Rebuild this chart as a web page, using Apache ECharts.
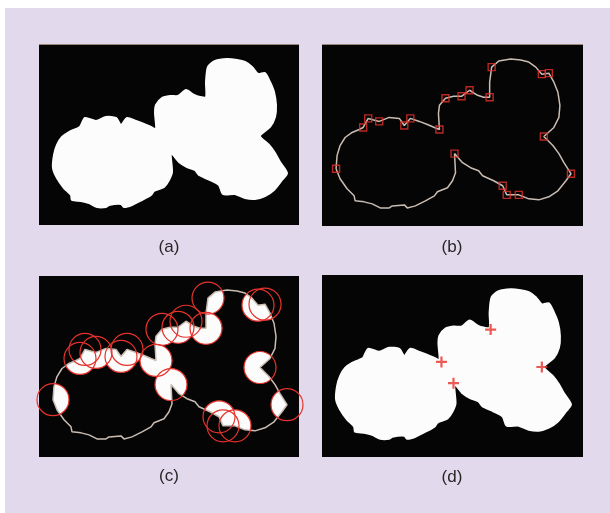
<!DOCTYPE html>
<html>
<head>
<meta charset="utf-8">
<script src="https://cdn.jsdelivr.net/npm/echarts@6/dist/echarts.min.js"></script>
<style>
  html, body { margin: 0; padding: 0; background: #fff; }
  #wrap { position: relative; width: 610px; height: 513px; background: #fff; }
  #lav { position: absolute; left: 5px; top: 8px; width: 605px; height: 505px; background: #e3d9ec; }
  #main { position: absolute; left: 0; top: 0; width: 610px; height: 513px; }
</style>
</head>
<body>
<div id="wrap"><div id="lav"></div><div id="main"></div></div>
<script>
// blob boundary, panel-local pixel coords (x right, y down)
const outline = [
  [14,123],[15,110],[18,100],[23,92],[30,87],[37,84],[41,82],[46,73],[57,76],[67,72],
  [77,73],[82,80],[88,73],[97,76],[105,79],[112,82],[117,84],[116,68],[117,60],[123,53],
  [131,51],[139,51],[147,45],[155,50],[161,52],[167,52],[167,37],[169,22],[176,16],[188,14],
  [198,15],[206,17],[213,22],[219,29],[226,28],[231,37],[235,47],[237,60],[236,72],[231,82],
  [221,91],[230,100],[236,108],[241,117],[248,128],[243,135],[235,145],[226,151],[216,154],[206,153],
  [196,149],[184,149],[180,140],[171,135],[160,130],[156,125],[148,122],[140,117],[132,108],[133,127],
  [130,135],[125,142],[120,144],[115,146],[112,150],[103,155],[93,160],[85,162],[82,159],[70,160],
  [67,162],[58,162],[50,158],[42,156],[33,155],[32,150],[25,143],[18,133]
];
// detected corner points (b) / circle centres (c)
const corners = [
  [169,22],[219,29],[226,28],[167,52],[147,45],[139,51],[123,53],[117,84],[88,73],[82,80],
  [57,76],[46,73],[41,82],[14,123],[132,108],[221,91],[248,128],[180,140],[184,149],[196,149]
];
// final split points (d)
const junctions = [[168,54],[119,86],[131,107],[219,91]];
const panelLabels = ['(a)', '(b)', '(c)', '(d)'];

const panels = [
  { left: 39, top: 45, width: 260, height: 180, lx: 169, ly: 247 },
  { left: 322, top: 45, width: 261, height: 181, lx: 452, ly: 247 },
  { left: 39, top: 276, width: 260, height: 181, lx: 169, ly: 476 },
  { left: 322, top: 275, width: 261, height: 182, lx: 452, ly: 477 }
];

const BLACK = '#050505';
const WHITE = '#fdfcfc';
const GREY = '#c9bdb3';
const RED = '#e5322b';
const closed = outline.concat([outline[0]]);

function blobItem(params, api) {
  const pts = outline.map(p => api.coord(p));
  return {
    type: 'polygon', shape: { points: pts, smooth: 0.25 },
    style: { fill: WHITE, stroke: WHITE, lineWidth: 2 }
  };
}

function maskItem(params, api) {
  const cs = params.coordSys;
  let pts = outline.map(p => api.coord(p));
  let a = 0;
  for (let i = 0; i < pts.length; i++) {
    const p = pts[i], q = pts[(i + 1) % pts.length];
    a += p[0] * q[1] - q[0] * p[1];
  }
  if (a > 0) pts = pts.slice().reverse();
  const x0 = cs.x, y0 = cs.y, x1 = cs.x + cs.width, y1 = cs.y + cs.height;
  let d = `M${x0} ${y0}L${x1} ${y0}L${x1} ${y1}L${x0} ${y1}Z`;
  d += 'M' + pts.map(p => p[0] + ' ' + p[1]).join('L') + 'Z';
  return { type: 'path', shape: { pathData: d }, style: { fill: BLACK } };
}

function circleItem(fill, stroke) {
  return function (params, api) {
    const c = api.coord([api.value(0), api.value(1)]);
    return {
      type: 'circle',
      shape: { cx: c[0], cy: c[1], r: 16 },
      style: { fill: fill, stroke: stroke, lineWidth: 1.2 }
    };
  };
}

const chart = echarts.init(document.getElementById('main'));

const option = {
  animation: false,
  grid: panels.map(p => ({
    left: p.left, top: p.top, width: p.width, height: p.height,
    show: true, backgroundColor: BLACK, borderWidth: 0
  })),
  xAxis: panels.map((p, i) => ({ type: 'value', gridIndex: i, min: 0, max: 260, show: false })),
  yAxis: panels.map((p, i) => ({ type: 'value', gridIndex: i, min: 0, max: 180, inverse: true, show: false })),
  graphic: [
    { type: 'rect', shape: { x: 39, y: 44, width: 260, height: 1 }, style: { fill: '#9c8878' } },
    { type: 'rect', shape: { x: 322, y: 44, width: 261, height: 1 }, style: { fill: '#9c8878' } }
  ].concat(panels.map((p, i) => ({
    type: 'text', x: p.lx, y: p.ly,
    style: {
      text: panelLabels[i], fill: '#262626',
      font: '17px "Liberation Sans", Arial, sans-serif',
      textAlign: 'center', textVerticalAlign: 'middle'
    }
  }))),
  series: [
    // (a) filled blob
    { type: 'custom', xAxisIndex: 0, yAxisIndex: 0, data: [[0, 0]], renderItem: blobItem, z: 2, silent: true },
    // (b) contour + corners
    {
      type: 'line', xAxisIndex: 1, yAxisIndex: 1, data: closed, symbol: 'none',
      lineStyle: { color: GREY, width: 1.5 }, z: 3, silent: true
    },
    {
      type: 'scatter', xAxisIndex: 1, yAxisIndex: 1, data: corners, symbol: 'rect', symbolSize: 7,
      itemStyle: { color: 'rgba(0,0,0,0)', borderColor: RED, borderWidth: 1.4 }, z: 5, silent: true
    },
    // (c) discs clipped to blob, contour, circles
    {
      type: 'custom', xAxisIndex: 2, yAxisIndex: 2, data: corners, clip: true,
      renderItem: circleItem(WHITE, null), z: 2, silent: true
    },
    { type: 'custom', xAxisIndex: 2, yAxisIndex: 2, data: [[0, 0]], renderItem: maskItem, z: 3, silent: true },
    {
      type: 'line', xAxisIndex: 2, yAxisIndex: 2, data: closed, symbol: 'none',
      lineStyle: { color: GREY, width: 1.5 }, z: 4, silent: true
    },
    {
      type: 'custom', xAxisIndex: 2, yAxisIndex: 2, data: corners, clip: false,
      renderItem: circleItem('none', RED), z: 5, silent: true
    },
    // (d) filled blob + split points
    { type: 'custom', xAxisIndex: 3, yAxisIndex: 3, data: [[0, 0]], renderItem: blobItem, z: 2, silent: true },
    {
      type: 'scatter', xAxisIndex: 3, yAxisIndex: 3, data: junctions,
      symbol: 'path://M4,0h2v4h4v2h-4v4h-2v-4h-4v-2h4z', symbolSize: 11,
      itemStyle: { color: RED }, z: 5, silent: true
    }
  ]
};

chart.setOption(option);
</script>
</body>
</html>
